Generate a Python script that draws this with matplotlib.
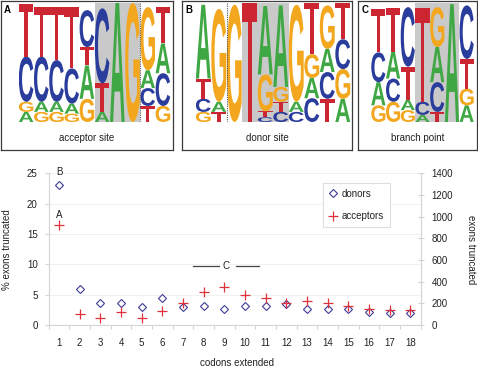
import matplotlib
matplotlib.use('Agg')
import matplotlib.pyplot as plt
from matplotlib.textpath import TextPath
from matplotlib.font_manager import FontProperties
from matplotlib.patches import PathPatch
import matplotlib.transforms as mtransforms

plt.rcParams['font.family'] = ['Liberation Sans', 'DejaVu Sans']

# ---------------- data ----------------
# sequence logos: letters bottom->top per position, heights in bits
acc_letters = ["AGCT", "GACT", "GACT", "GACT", "GATC", "ATC", "A", "G", "TCAG", "GCAT"]
acc_heights = [[0.17, 0.17, 0.76, 0.89], [0.17, 0.17, 0.76, 0.84], [0.17, 0.17, 0.70, 0.90],
               [0.14, 0.17, 0.59, 1.04], [0.39, 0.56, 0.31, 0.62], [0.17, 0.48, 1.26],
               [2.00], [2.00], [0.27, 0.30, 0.30, 1.06], [0.27, 0.55, 0.50, 0.62]]

don_letters = ["GCTA", "TAG", "G", "T", "CTGA", "CTGA", "CAG", "CAGT", "TCAG", "AGCT"]
don_heights = [[0.17, 0.22, 0.34, 1.24], [0.17, 0.17, 1.56], [1.97], [2.00],
               [0.08, 0.10, 0.62, 1.15], [0.17, 0.17, 0.25, 1.37], [0.17, 0.17, 1.63],
               [0.40, 0.34, 0.40, 0.90], [0.39, 0.45, 0.39, 0.73], [0.39, 0.50, 0.50, 0.62]]

br_letters = ["GACT", "GCAT", "GATC", "ACT", "TCAG", "A", "AGTC"]
br_heights = [[0.28, 0.39, 0.50, 0.73], [0.34, 0.39, 0.45, 0.73], [0.20, 0.17, 0.56, 1.00],
              [0.12, 0.22, 1.58], [0.17, 0.50, 0.59, 0.67], [1.98], [0.28, 0.28, 0.50, 0.90]]

# scatter data
codons = list(range(1, 19))
donors_pct = [23.1, 5.9, 3.55, 3.55, 2.9, 4.4, 3.0, 3.2, 2.7, 3.1, 3.1, 3.4, 2.6, 2.6, 2.7, 2.2, 2.0, 2.0]
acceptors_pct = [16.4, 1.75, 1.2, 2.1, 1.2, 2.3, 3.7, 5.4, 6.3, 4.9, 4.4, 3.7, 3.9, 3.7, 3.2, 2.7, 2.5, 2.5]

# ---------------- layout helpers ----------------
W, H = 478, 368
fig = plt.figure(figsize=(W / 100, H / 100), dpi=100)


def rect(x0, y0, x1, y1):
    return [x0 / W, 1 - y1 / H, (x1 - x0) / W, (y1 - y0) / H]


COLORS = {'A': '#3fa844', 'C': '#2a3c9c', 'G': '#f2a71f', 'T': '#cc2632'}
fp = FontProperties(family='Liberation Sans', weight='bold')


def draw_letter(ax, ch, x, y, w, h):
    tp = TextPath((0, 0), ch, size=1, prop=fp)
    bb = tp.get_extents()
    t = (mtransforms.Affine2D().translate(-bb.x0, -bb.y0)
         .scale(w / bb.width, h / bb.height).translate(x, y))
    ax.add_patch(PathPatch(t.transform_path(tp), fc=COLORS[ch], ec='none', zorder=2))


def logo_panel(box, inner, letters, heights, grey, dotted, tag, label, tagpos):
    bax = fig.add_axes(rect(*box))
    bax.set_xticks([]); bax.set_yticks([])
    for s in bax.spines.values():
        s.set_color('#3a3a3a'); s.set_linewidth(0.9)
    bax.text(0.5, (box[3] - 138) / (box[3] - box[1]), label, ha='center', va='center',
             fontsize=7, color='#222222', transform=bax.transAxes)
    fig.text(tagpos[0] / W, 1 - tagpos[1] / H, tag, fontsize=7, fontweight='bold',
             ha='left', va='center')
    lax = fig.add_axes(rect(*inner))
    lax.set_xlim(0, len(letters)); lax.set_ylim(0, 2)
    lax.axis('off')
    lax.axvspan(grey[0], grey[1], color='#c9c9c9', lw=0, zorder=0)
    if dotted is not None:
        lax.axvline(dotted, color='#555555', ls=(0, (1, 1)), lw=0.8, zorder=3)
    for i, (seq, hs) in enumerate(zip(letters, heights)):
        y = 0
        for ch, h in zip(seq, hs):
            draw_letter(lax, ch, i + 0.02, y, 0.96, h)
            y += h


logo_panel((1, 1, 173, 150), (18.5, 3, 170.5, 122), acc_letters, acc_heights,
           (5, 8), 8, 'A', 'acceptor site', (4, 10))
logo_panel((182, 1, 352, 150), (195.5, 3, 350.5, 122), don_letters, don_heights,
           (3, 6), 2, 'B', 'donor site', (185, 10))
logo_panel((358, 1, 477, 150), (371, 3, 474, 122), br_letters, br_heights,
           (3, 6), None, 'C', 'branch point', (362, 10))

# ---------------- scatter plot ----------------
AX_X0, AX_Y0, AX_X1, AX_Y1 = 48.7, 173.3, 420.7, 325
ax = fig.add_axes(rect(AX_X0, AX_Y0, AX_X1, AX_Y1))
axw, axh = AX_X1 - AX_X0, AX_Y1 - AX_Y0
ax.set_xlim(0.5, 18.5)
ax.set_ylim(0, 25)
ax.plot(codons, donors_pct, ls='none', marker='D', mfc='none', mec='#3c3c96',
        ms=4.2, mew=0.8, label='donors', zorder=3)
ax.plot(codons, acceptors_pct, ls='none', marker='+', color='#e0303c',
        ms=6.5, mew=0.9, label='acceptors', zorder=3)

grid_c = '#d4d4d4'
ax.set_yticks([0, 5, 10, 15, 20, 25])
ax.yaxis.grid(True, color='#f1f1f1', lw=0.8)
ax.set_axisbelow(True)
ax.set_xticks(codons)
ax.set_xticks([c - 0.5 for c in codons] + [18.5], minor=True)
ax.tick_params(axis='x', which='major', length=0, pad=9, labelsize=7, labelcolor='#222222')
ax.tick_params(axis='x', which='minor', length=3, color=grid_c, width=0.8)
ax.tick_params(axis='y', length=3, color=grid_c, width=0.8, pad=5, labelsize=7,
               labelcolor='#222222')
for s in ['left', 'bottom', 'right']:
    ax.spines[s].set_color(grid_c)
    ax.spines[s].set_linewidth(0.8)
ax.spines['top'].set_visible(False)

ax2 = ax.twinx()
ax2.set_ylim(0, 1400)
ax2.set_yticks(range(0, 1401, 200))
ax2.tick_params(axis='y', length=4, direction='inout', color=grid_c, width=0.8, pad=6,
                labelsize=7, labelcolor='#222222')
for s in ax2.spines.values():
    s.set_visible(False)

ax.set_ylabel('% exons truncated', fontsize=7, color='#222222', va='center')
ax.yaxis.set_label_coords((7 - AX_X0) / axw, 0.5)
ax2.set_ylabel('exons truncated', fontsize=7, color='#222222', rotation=270, va='center')
ax2.yaxis.set_label_coords((471 - AX_X0) / axw, 0.5)
ax.set_xlabel('codons extended', fontsize=7, color='#222222', va='center')
ax.xaxis.set_label_coords((237 - AX_X0) / axw, -(363 - AX_Y1) / axh)

# annotations
ann_B = (1, 25.2)
ann_A = (1, 18.1)
ann_C = (9.1, 9.8)
ann_C_span = (7.49, 8.72, 9.54, 10.69)
ax.text(*ann_B, 'B', ha='center', va='center', fontsize=7, color='#222222', clip_on=False)
ax.text(*ann_A, 'A', ha='center', va='center', fontsize=7, color='#222222')
ax.text(*ann_C, 'C', ha='center', va='center', fontsize=7, color='#222222')
ax.plot(ann_C_span[0:2], [ann_C[1]] * 2, color='#444444', lw=0.9)
ax.plot(ann_C_span[2:4], [ann_C[1]] * 2, color='#444444', lw=0.9)

leg = ax.legend(loc='upper left', bbox_to_anchor=(323 / W, 1 - 183 / H),
                bbox_transform=fig.transFigure, borderaxespad=0, fontsize=7,
                fancybox=False, edgecolor='#dddddd', framealpha=1, labelspacing=1.25,
                handlelength=0.8, handletextpad=0.5, borderpad=0.6, numpoints=1)
leg.get_frame().set_linewidth(0.8)
for t in leg.get_texts():
    t.set_color('#222222')

fig.savefig('out.png', dpi=100)
